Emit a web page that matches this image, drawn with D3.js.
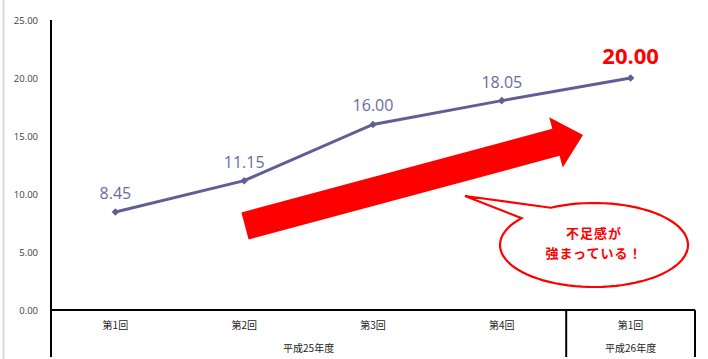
<!DOCTYPE html>
<html><head><meta charset="utf-8">
<script src="https://cdn.jsdelivr.net/npm/d3@7"></script>
<style>body{margin:0;background:#fff}svg{display:block}</style>
</head><body>
<script>
const categories = ["第1回","第2回","第3回","第4回","第1回"];
const groups = [{label:"平成25年度", from:0, to:3},{label:"平成26年度", from:4, to:4}];
const values = [8.45, 11.15, 16.00, 18.05, 20.00];
const yTicks = [0,5,10,15,20,25];
const bubbleLines = ["不足感が","強まっている！"];

(function(){
const W=708,H=359;
const svg=d3.select("body").append("svg").attr("width",W).attr("height",H);
const mLeft=51,mRight=695,mTop=20,mBase=310,mBottom=357;
const x=d3.scaleBand().domain(d3.range(categories.length)).range([mLeft,mRight]);
const y=d3.scaleLinear().domain([0,25]).range([mBase,mTop]);
const jp='"Noto Sans CJK JP", sans-serif';

svg.append("line").attr("x1",3.5).attr("x2",3.5).attr("y1",0).attr("y2",H).attr("stroke","#d9d9d9").attr("stroke-width",2);

svg.selectAll(".yt").data(yTicks).join("text")
  .attr("x",38).attr("y",d=>y(d)+3.5).attr("text-anchor","end")
  .attr("font-family",'"Open Sans", sans-serif').attr("font-size",9.5).attr("fill","#404040")
  .text(d=>d3.format(".2f")(d));

svg.append("line").attr("x1",mLeft).attr("x2",mLeft).attr("y1",mTop).attr("y2",mBottom).attr("stroke","#000").attr("stroke-width",2);
svg.append("line").attr("x1",mLeft).attr("x2",mRight).attr("y1",mBase).attr("y2",mBase).attr("stroke","#000").attr("stroke-width",2);
groups.forEach(g=>{
  const xe=x(g.to)+x.bandwidth();
  svg.append("line").attr("x1",xe).attr("x2",xe).attr("y1",mBase).attr("y2",mBottom).attr("stroke","#000").attr("stroke-width",2);
});

svg.selectAll(".cat").data(categories).join("text")
  .attr("x",(d,i)=>x(i)+x.bandwidth()/2).attr("y",329).attr("text-anchor","middle")
  .attr("font-family",jp).attr("font-size",10).attr("fill","#222").text(d=>d);
svg.selectAll(".grp").data(groups).join("text")
  .attr("x",g=>(x(g.from)+x(g.to)+x.bandwidth())/2).attr("y",352).attr("text-anchor","middle")
  .attr("font-family",jp).attr("font-size",10).attr("fill","#222").text(g=>g.label);

const cx=i=>x(i)+x.bandwidth()/2;
svg.append("path").datum(values)
  .attr("d",d3.line().x((d,i)=>cx(i)).y(d=>y(d)))
  .attr("fill","none").attr("stroke","#5f5f96").attr("stroke-width",3);
svg.selectAll(".mk").data(values).join("path")
  .attr("transform",(d,i)=>`translate(${cx(i)},${y(d)})`)
  .attr("d",d3.symbol(d3.symbolDiamond2,36)).attr("fill","#5f5f96");

svg.selectAll(".vl").data(values).join("text")
  .attr("x",(d,i)=>cx(i)).attr("y",(d,i)=>i===4?y(d)-14:y(d)-13).attr("text-anchor","middle")
  .attr("font-family",'"Open Sans", sans-serif')
  .attr("font-size",(d,i)=>i===4?22:16)
  .attr("font-weight",(d,i)=>i===4?"bold":"normal")
  .attr("fill",(d,i)=>i===4?"#ff0000":"#6a6aa2")
  .text(d=>d3.format(".2f")(d));

const tail=[245,226], tip=[583,135];
const ang=Math.atan2(tip[1]-tail[1],tip[0]-tail[0])*180/Math.PI;
const len=Math.hypot(tip[0]-tail[0],tip[1]-tail[1]);
const hw=14, hl=28, hh=26;
svg.append("path")
  .attr("transform",`translate(${tail[0]},${tail[1]}) rotate(${ang})`)
  .attr("d",`M0,${-hw}L${len-hl},${-hw}L${len-hl},${-hh}L${len},0L${len-hl},${hh}L${len-hl},${hw}L0,${hw}Z`)
  .attr("fill","#ff0000");

const ecx=594, ecy=245, rx=94, ry=42;
const a1=-2.05, a2=-2.45;
const p1=[ecx+rx*Math.cos(a1), ecy+ry*Math.sin(a1)];
const ptip=[465,196];
let d=`M${p1[0]},${p1[1]}`;
const steps=80;
for(let k=1;k<=steps;k++){
  const t=a1+(2*Math.PI-(a1-a2))*k/steps;
  d+=`L${ecx+rx*Math.cos(t)},${ecy+ry*Math.sin(t)}`;
}
d+=`L${ptip[0]},${ptip[1]}Z`;
svg.append("path").attr("d",d).attr("fill","#fff").attr("stroke","#ff0000").attr("stroke-width",2.2).attr("stroke-linejoin","miter");
svg.selectAll(".bt").data(bubbleLines).join("text")
  .attr("x",594).attr("y",(d,i)=>238+i*20).attr("text-anchor","middle")
  .attr("letter-spacing",1)
  .attr("font-family",jp).attr("font-size",13).attr("font-weight","bold").attr("fill","#ff0000")
  .text(d=>d);
})();
</script>
</body></html>
